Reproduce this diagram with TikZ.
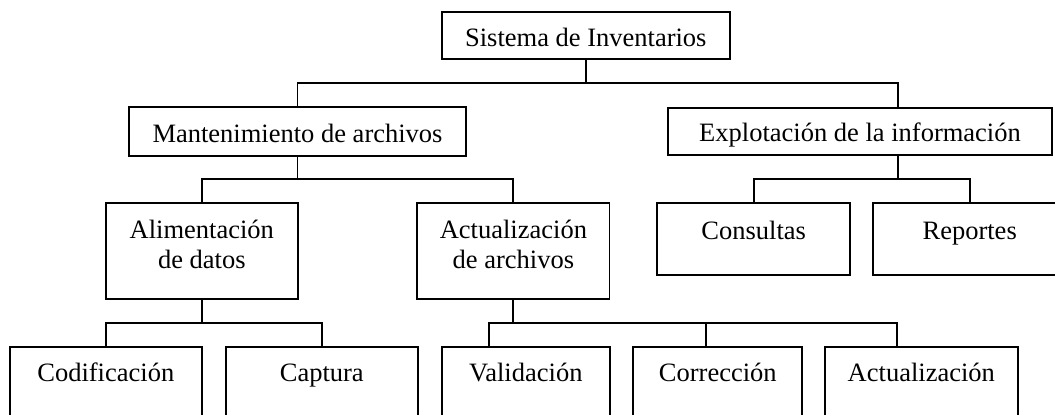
\documentclass[tikz,border=0pt]{standalone}
\usepackage{fontspec}
\setmainfont{Liberation Serif}
\begin{document}
\begin{tikzpicture}[x=1pt,y=-1pt,
  box/.style={draw=black,line width=1.9pt,rectangle,inner sep=0pt},
  lbl/.style={inner sep=0pt,anchor=base,align=center,font=\fontsize{26.5}{30}\selectfont},
  conn/.style={draw=black,line width=1.9pt}]
\clip (0,0) rectangle (1055,415);
\fill[white] (0,0) rectangle (1055,415);
% boxes
\node[box,minimum width=288.3pt,minimum height=47.6pt] (sis) at (585.8,35.5) {};
\node[box,minimum width=336.4pt,minimum height=48.4pt] (mant) at (297.5,131.5) {};
\node[box,minimum width=384.6pt,minimum height=47.3pt] (expl) at (860,131.3) {};
\node[box,minimum width=191.7pt,minimum height=96pt] (ali) at (201.8,251.3) {};
\node[box,minimum width=192.2pt,minimum height=95.5pt] (act) at (513.4,251) {};
\node[box,minimum width=192.7pt,minimum height=72pt] (cons) at (753.7,239.3) {};
\node[box,minimum width=192.7pt,minimum height=72pt] (rep) at (969.7,239.3) {};
\node[box,minimum width=191.7pt,minimum height=82.7pt] (cod) at (105.8,388.65) {};
\node[box,minimum width=191.7pt,minimum height=82.7pt] (cap) at (321.8,388.65) {};
\node[box,minimum width=168.3pt,minimum height=82.7pt] (val) at (525.8,388.65) {};
\node[box,minimum width=169pt,minimum height=82.7pt] (cor) at (717.8,388.65) {};
\node[box,minimum width=192.7pt,minimum height=82.7pt] (actz) at (921.3,388.65) {};
% texts
\node[lbl] (tsis) at (585.8,46.7) {Sistema de Inventarios};
\node[lbl] (tmant) at (297.5,142.3) {Mantenimiento de archivos};
\node[lbl] (texpl) at (860,141.7) {Explotación de la información};
\node[lbl] (tali) at (201.8,268.3) {Alimentación\\de datos};
\node[lbl] (tact) at (513.4,268.3) {Actualización\\de archivos};
\node[lbl] (tcons) at (753.7,239.3) {Consultas};
\node[lbl] (trep) at (969.7,239.3) {Reportes};
\node[lbl] (tcod) at (105.8,381.7) {Codificación};
\node[lbl] (tcap) at (321.8,381.7) {Captura};
\node[lbl] (tval) at (525.8,381.7) {Validación};
\node[lbl] (tcor) at (717.8,381.7) {Corrección};
\node[lbl] (tactz) at (921.3,381.7) {Actualización};
% junctions
\coordinate (b1) at (585.8,83.3);
\coordinate (ex) at (898.3,0);
\coordinate (b2) at (297.5,179.3);
\coordinate (b3) at (898.3,179.3);
\coordinate (b4) at (201.8,323.3);
\coordinate (b5) at (513.4,323.3);
\coordinate (v1) at (489.3,0);
\coordinate (v2) at (705.7,0);
\coordinate (v3) at (897.3,0);
% connectors
\draw[conn] (sis.south) -- (b1);
\draw[conn] (mant.north) |- (b1) -| (ex |- expl.north);
\draw[conn] (mant.south) -- (b2);
\draw[conn] (ali.north) |- (b2) -| (act.north);
\draw[conn] (ex |- expl.south) -- (b3);
\draw[conn] (cons.north) |- (b3) -| (rep.north);
\draw[conn] (ali.south) -- (b4);
\draw[conn] (cod.north) |- (b4) -| (cap.north);
\draw[conn] (act.south) -- (b5);
\draw[conn] (v1 |- val.north) |- (b5) -| (v3 |- actz.north);
\draw[conn] (v2 |- cor.north) -- (v2 |- b5);
\end{tikzpicture}
\end{document}
